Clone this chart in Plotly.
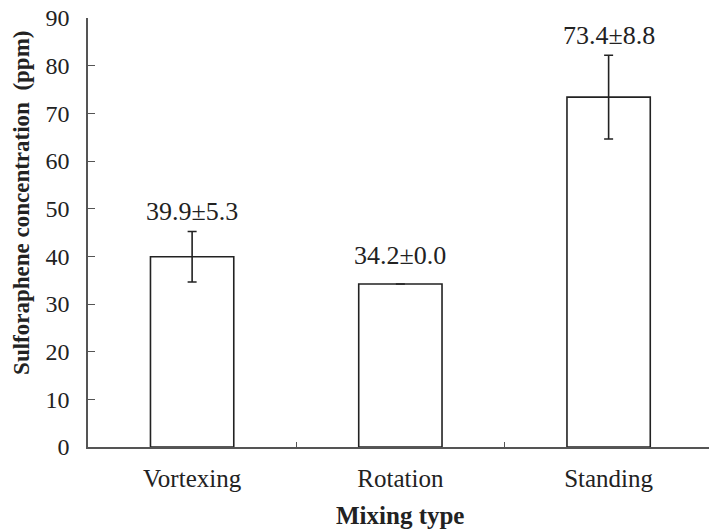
import plotly.graph_objects as go

# Sulforaphene yield by mixing method (mean ± SD)
mixing_types = ["Vortexing", "Rotation", "Standing"]
mean_ppm = [39.9, 34.2, 73.4]
sd_ppm = [5.3, 0.0, 8.8]
y_ticks = [0, 10, 20, 30, 40, 50, 60, 70, 80, 90]

# vertical pixel offset of each value label above its error bar
label_offsets = [20, 28, 20]

FONT = "Liberation Serif"
INK = "#222222"

fig = go.Figure()
fig.add_trace(go.Bar(
    x=mixing_types,
    y=mean_ppm,
    width=0.4,
    marker=dict(color="white", line=dict(color=INK, width=1.6)),
    error_y=dict(type="data", array=sd_ppm, visible=True,
                 color=INK, thickness=1.6, width=4.5),
    showlegend=False,
))

for cat, m, s, off in zip(mixing_types, mean_ppm, sd_ppm, label_offsets):
    fig.add_annotation(
        x=cat, y=m + s, xref="x", yref="y",
        text=f"{m:.1f}±{s:.1f}", showarrow=False,
        yanchor="middle", yshift=off,
        font=dict(family=FONT, size=26, color=INK),
    )

# axis titles
fig.add_annotation(
    text="<b>Sulforaphene concentration  (ppm)</b>",
    xref="paper", yref="paper", x=0, y=0.569,
    xanchor="center", yanchor="middle", xshift=-66,
    textangle=-90, showarrow=False,
    font=dict(family=FONT, size=23, color=INK),
)
fig.add_annotation(
    text="<b>Mixing type</b>",
    xref="x", yref="paper", x="Rotation", y=0,
    xanchor="center", yanchor="middle", yshift=-68,
    showarrow=False,
    font=dict(family=FONT, size=25, color=INK),
)

fig.update_layout(
    width=709, height=532,
    margin=dict(l=88, r=0, t=18, b=85),
    paper_bgcolor="white", plot_bgcolor="white",
    font=dict(family=FONT, color=INK),
    bargap=0.6,
)
fig.update_xaxes(
    range=[-0.5, 2.482],
    showline=True, linecolor="#555555", linewidth=1.5,
    ticks="inside", tickson="boundaries", ticklen=5,
    tickcolor="#555555", tickwidth=1.2,
    tickfont=dict(family=FONT, size=25, color=INK),
    ticklabelstandoff=8,
    showgrid=False, zeroline=False,
)
fig.update_yaxes(
    range=[0, 90], tickvals=y_ticks,
    showline=True, linecolor="#555555", linewidth=1.5,
    ticks="inside", ticklen=7, tickcolor="#555555", tickwidth=1.2,
    tickfont=dict(family=FONT, size=24, color=INK),
    ticklabelstandoff=12,
    showgrid=False, zeroline=False,
)

fig.write_html("out.html")
